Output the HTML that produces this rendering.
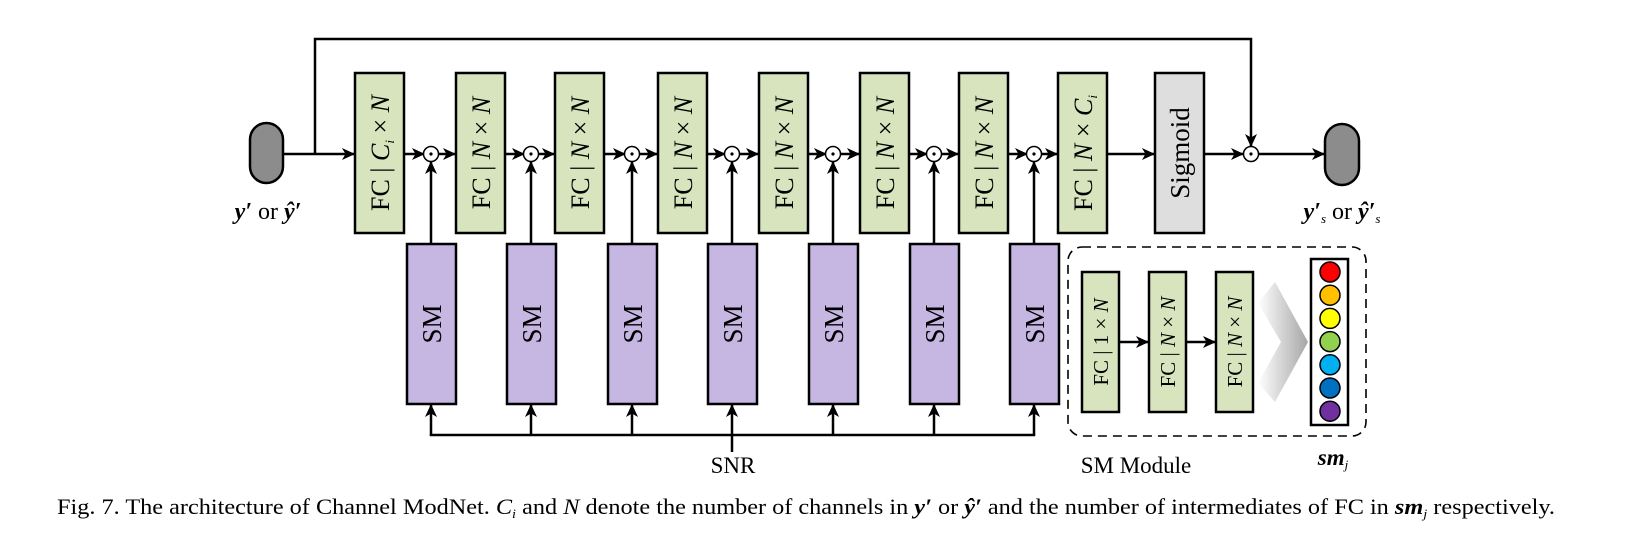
<!DOCTYPE html>
<html><head><meta charset="utf-8"><style>
html,body{margin:0;padding:0;background:#fff;}
svg{display:block;}
text{font-family:"Liberation Serif",serif;fill:#000;}
</style></head><body>
<svg id="fig" width="1643" height="547" viewBox="0 0 1643 547" xmlns="http://www.w3.org/2000/svg">
<defs>
<marker id="ah" markerWidth="13" markerHeight="12" refX="12" refY="6" orient="auto" markerUnits="userSpaceOnUse"><path d="M0,0 L13,6 L0,12 L3.5,6 z" fill="#000"/></marker>
<linearGradient id="chev" x1="0" x2="1" y1="0" y2="0"><stop offset="0" stop-color="#fff"/><stop offset="1" stop-color="#a6a6a6"/></linearGradient>
</defs>
</svg>
<script>
const fcX = [355, 456, 555, 658, 759, 860, 959, 1058];
const odotX = [431, 531, 632, 732, 833, 934, 1034];
const smColors = ["#ff0000","#ffc000","#ffff00","#92d050","#00b0f0","#0070c0","#7030a0"];
const NS = "http://www.w3.org/2000/svg";
const svg = document.getElementById('fig');
function mk(tag, attrs, parent){const e=document.createElementNS(NS,tag);for(const k in attrs)e.setAttribute(k,attrs[k]);(parent||svg).appendChild(e);return e;}
const Y = 154;
function line(x1,y1,x2,y2,arrow,name){const l=mk('line',{x1,y1,x2,y2,stroke:'#000','stroke-width':2.5});if(arrow)l.setAttribute('marker-end','url(#ah)');


return l;}
const sk=mk('polyline',{points:`315,${Y} 315,39 1251,39 1251,146`,fill:'none',stroke:'#000','stroke-width':2.5,'marker-end':'url(#ah)'});


line(283,Y,354,Y,true,'input-arrow');
fcX.forEach((x,i)=>{
 const r=mk('rect',{x,y:73,width:49,height:160,fill:'#d7e4bd',stroke:'#000','stroke-width':2.5});
 
 
 const t=mk('text',{transform:`translate(${x+34},153) rotate(-90)`,'text-anchor':'middle','font-size':26});
 
 
 if(i===0) t.innerHTML=`FC | <tspan font-style="italic">C</tspan><tspan font-size="13" dy="5" font-style="italic">i</tspan><tspan dy="-5"> × </tspan><tspan font-style="italic">N</tspan>`;
 else if(i===7) t.innerHTML=`FC | <tspan font-style="italic">N</tspan> × <tspan font-style="italic">C</tspan><tspan font-size="13" dy="5" font-style="italic">i</tspan>`;
 else t.innerHTML=`FC | <tspan font-style="italic">N</tspan> × <tspan font-style="italic">N</tspan>`;
});
odotX.forEach((x,i)=>{
 line(fcX[i]+49,Y,x-7,Y,true,'fc-to-odot-arrow');
 line(x+7,Y,fcX[i+1]-1,Y,true,'odot-to-fc-arrow');
 const c=mk('circle',{cx:x,cy:Y,r:7.5,fill:'#fff',stroke:'#000','stroke-width':1.5});
 
 
 mk('circle',{cx:x,cy:Y,r:1.6,fill:'#000'});
 const r=mk('rect',{x:x-24,y:244,width:49,height:160,fill:'#c5b6e2',stroke:'#000','stroke-width':2.5});
 
 
 const t=mk('text',{transform:`translate(${x+10},324) rotate(-90)`,'text-anchor':'middle','font-size':27});
 t.textContent='SM';
 
 
 line(x,244,x,162,true,'sm-to-odot-arrow');
 line(x,435,x,405,true,'snr-to-sm-arrow');
});
line(odotX[0]-1.25,435,odotX[6]+1.25,435,false,'snr-bus');
line(732,452,732,435,false,'snr-input-line');
const snr=mk('text',{x:733,y:473,'text-anchor':'middle','font-size':23});snr.textContent='SNR';


line(1107,Y,1154,Y,true,'fc-to-sigmoid-arrow');
const sg=mk('rect',{x:1155,y:73,width:49,height:160,fill:'#dedede',stroke:'#000','stroke-width':2.5});


const sgt=mk('text',{transform:'translate(1189,153) rotate(-90)','text-anchor':'middle','font-size':27});sgt.textContent='Sigmoid';


line(1204,Y,1243,Y,true,'sigmoid-to-odot-arrow');
const oc=mk('circle',{cx:1251,cy:Y,r:7.5,fill:'#fff',stroke:'#000','stroke-width':1.5});


mk('circle',{cx:1251,cy:Y,r:1.6,fill:'#000'});
line(1258,Y,1324,Y,true,'output-arrow');
const p1=mk('rect',{x:250,y:123,width:33,height:60,rx:16.5,fill:'#8c8c8c',stroke:'#000','stroke-width':2.5});


const p2=mk('rect',{x:1325,y:124,width:34,height:61,rx:17,fill:'#8c8c8c',stroke:'#000','stroke-width':2.5});


const il=mk('text',{x:268,y:219,'text-anchor':'middle','font-size':24});
il.innerHTML='<tspan font-weight="bold" font-style="italic">y′</tspan> or <tspan font-weight="bold" font-style="italic">ŷ′</tspan>';


const ol=mk('text',{x:1342,y:219,'text-anchor':'middle','font-size':24});
ol.innerHTML='<tspan font-weight="bold" font-style="italic">y′</tspan><tspan font-size="13" dy="4" font-style="italic">s</tspan><tspan dy="-4"> or </tspan><tspan font-weight="bold" font-style="italic">ŷ′</tspan><tspan font-size="13" dy="4" font-style="italic">s</tspan>';


const db=mk('rect',{x:1068,y:247,width:298,height:189,rx:14,fill:'none',stroke:'#000','stroke-width':1.6,'stroke-dasharray':'9,6'});


const smX=[1082,1149,1216];
smX.forEach((x,i)=>{
 const r=mk('rect',{x,y:272,width:37,height:140,fill:'#d7e4bd',stroke:'#000','stroke-width':2.5});
 
 
 const t=mk('text',{transform:`translate(${x+26},342) rotate(-90)`,'text-anchor':'middle','font-size':21});
 t.innerHTML= i===0 ? 'FC | 1 × <tspan font-style="italic">N</tspan>' : 'FC | <tspan font-style="italic">N</tspan> × <tspan font-style="italic">N</tspan>';
 
 
 if(i<2) line(x+37,342,smX[i+1]-1,342,true,'sm-fc-arrow');
});
const ch=mk('polygon',{points:'1275,282 1308,342 1275,402 1258,383 1281,342 1258,303',fill:'url(#chev)',stroke:'none'});


const vb=mk('rect',{x:1311,y:259,width:37,height:166,fill:'#fff',stroke:'#000','stroke-width':2.5});


smColors.forEach((col,i)=>{
 const c=mk('circle',{cx:1330,cy:272+i*23.2,r:10,fill:col,stroke:'#000','stroke-width':1.5});
 
 
});
const sml=mk('text',{x:1136,y:473,'text-anchor':'middle','font-size':23});sml.textContent='SM Module';


const smj=mk('text',{x:1333,y:465,'text-anchor':'middle','font-size':23});
smj.innerHTML='<tspan font-weight="bold" font-style="italic">sm</tspan><tspan font-size="13" dy="4" font-style="italic">j</tspan>';


const cap=mk('text',{x:57,y:514,'font-size':22,textLength:1498,lengthAdjust:'spacingAndGlyphs'});
cap.innerHTML='Fig. 7.  The architecture of Channel ModNet. <tspan font-style="italic">C</tspan><tspan font-size="13" dy="4" font-style="italic">i</tspan><tspan dy="-4"> and </tspan><tspan font-style="italic">N</tspan> denote the number of channels in <tspan font-weight="bold" font-style="italic">y′</tspan> or <tspan font-weight="bold" font-style="italic">ŷ′</tspan> and the number of intermediates of FC in <tspan font-weight="bold" font-style="italic">sm</tspan><tspan font-size="13" dy="4" font-style="italic">j</tspan><tspan dy="-4"> respectively.</tspan>';


</script>
</body></html>
